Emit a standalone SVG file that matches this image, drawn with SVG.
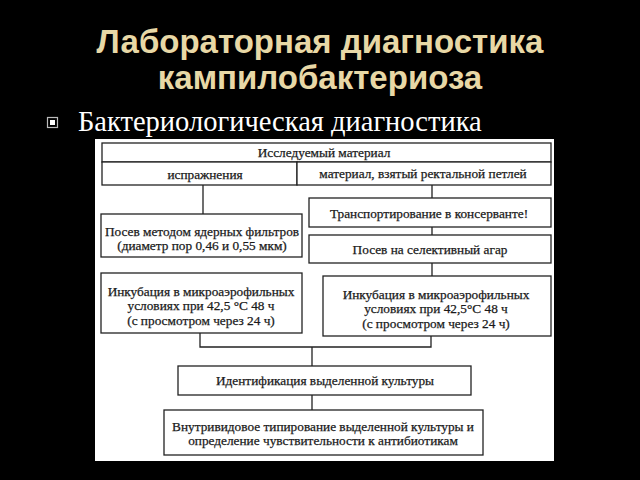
<svg xmlns="http://www.w3.org/2000/svg" width="640" height="480" viewBox="0 0 640 480">
<style>
.t{font-family:"Liberation Serif","Times New Roman",serif;font-size:13.3px;fill:#1a1a1a;stroke:#1a1a1a;stroke-width:0.25;text-anchor:middle}
.b{fill:#fff;stroke:#222;stroke-width:1.3}
.c{fill:none;stroke:#222;stroke-width:1.3}
</style>
<rect width="640" height="480" fill="#000"/>
<g id="title" font-family="'Liberation Sans',Arial,sans-serif" font-weight="bold" font-size="33" fill="#e8d8a6" text-anchor="middle">
<text x="320" y="53">Лабораторная диагностика</text>
<text x="320" y="89">кампилобактериоза</text>
</g>
<g id="bullet">
<rect x="47.5" y="117.5" width="10" height="10" fill="none" stroke="#bbb" stroke-width="1.2"/>
<rect x="50" y="120" width="5" height="5" fill="#fff"/>
<text x="78" y="131" font-family="'Liberation Serif','Times New Roman',serif" font-size="28.5" fill="#fff">Бактериологическая диагностика</text>
</g>
<rect x="95" y="139" width="459" height="322" fill="#fff"/>
<g id="connectors">
<path class="c" d="M203 185V214M432 185V198M432 227V235M432 263V276M200 333V347H431V336M312 347V366M312 395V410"/>
</g>
<g id="material">
<rect class="b" x="102" y="143" width="449" height="19"/>
<text class="t" x="324" y="157">Исследуемый материал</text>
</g>
<g id="feces">
<rect class="b" x="102" y="162" width="195" height="23"/>
<text class="t" x="205" y="179">испражнения</text>
</g>
<g id="rectal">
<rect class="b" x="297" y="162" width="254" height="23"/>
<text class="t" x="423" y="178">материал, взятый ректальной петлей</text>
</g>
<g id="filters">
<rect class="b" x="101" y="214" width="201" height="43"/>
<text class="t" x="202" y="236">Посев методом ядерных фильтров</text>
<text class="t" x="202" y="250">(диаметр пор 0,46 и 0,55 мкм)</text>
</g>
<g id="transport">
<rect class="b" x="309" y="198" width="242" height="29"/>
<text class="t" x="429" y="218">Транспортирование в консерванте!</text>
</g>
<g id="agar">
<rect class="b" x="309" y="235" width="242" height="28"/>
<text class="t" x="430" y="254">Посев на селективный агар</text>
</g>
<g id="incub-left">
<rect class="b" x="101" y="273" width="201" height="60"/>
<text class="t" x="201" y="296">Инкубация в микроаэрофильных</text>
<text class="t" x="201" y="310">условиях при 42,5 °C 48 ч</text>
<text class="t" x="201" y="325">(с просмотром через 24 ч)</text>
</g>
<g id="incub-right">
<rect class="b" x="323" y="276" width="228" height="60"/>
<text class="t" x="436" y="299">Инкубация в микроаэрофильных</text>
<text class="t" x="436" y="313">условиях при 42,5°C 48 ч</text>
<text class="t" x="436" y="328">(с просмотром через 24 ч)</text>
</g>
<g id="ident">
<rect class="b" x="178" y="366" width="293" height="29"/>
<text class="t" x="325" y="385">Идентификация выделенной культуры</text>
</g>
<g id="typing">
<rect class="b" x="164" y="410" width="319" height="45"/>
<text class="t" x="323" y="431">Внутривидовое типирование выделенной культуры и</text>
<text class="t" x="323" y="445">определение чувствительности к антибиотикам</text>
</g>
</svg>
